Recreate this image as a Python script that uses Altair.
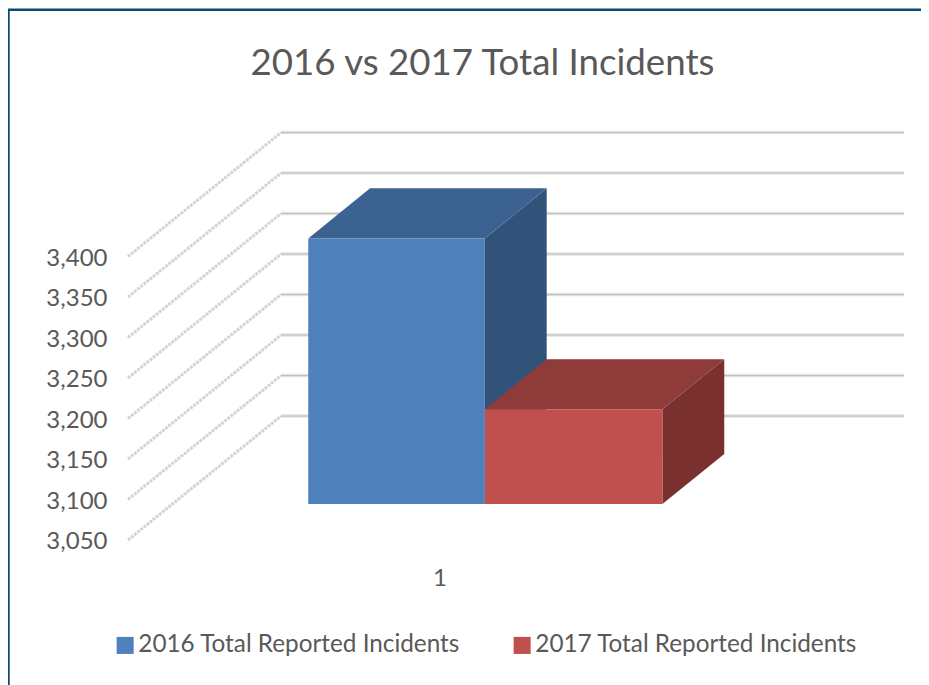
import altair as alt
import pandas as pd

SERIES = ["2016 Total Reported Incidents", "2017 Total Reported Incidents"]
VALUES = [3378, 3167]
FRONT = ["#4f81bd", "#c0504d"]
TOP = ["#3c6291", "#8f3b39"]
SIDE = ["#325379", "#7a302e"]
TICKS = [3050, 3100, 3150, 3200, 3250, 3300, 3350, 3400]
CATEGORY = ["1"]

W, H = 913, 677
UNIT = 623.0          # px per category-axis unit
PX_PER_VALUE = 0.81
ORIGIN_X, ORIGIN_Y = 120.0, 532.0   # plot px of (0, 3050)
DEPTH_X = 0.2456      # x units per full depth
DEPTH_V = 153.0       # value units per full depth
D0, D1 = 0.29, 0.694
EDGES = [0.2181, 0.5016, 0.7866]
BASE = 3050

xs = alt.Scale(domain=[-ORIGIN_X / UNIT, (W - ORIGIN_X) / UNIT], nice=False, zero=False)
ys = alt.Scale(domain=[BASE - (H - ORIGIN_Y) / PX_PER_VALUE, BASE + ORIGIN_Y / PX_PER_VALUE], nice=False, zero=False)
FONT = "Lato"
GREY = "#595959"


def px(x, d):
    return x + d * DEPTH_X


def pv(v, d):
    return v + d * DEPTH_V


X = alt.X("x:Q", scale=xs, title=None)
Y = alt.Y("y:Q", scale=ys, title=None)

# walls
wall = pd.DataFrame(
    [{"tick": t, "order": i, "x": px(x, d), "y": pv(t, d)}
     for t in TICKS for i, (x, d) in enumerate([(0, 0), (0, 1)])]
)
back = pd.DataFrame(
    [{"tick": t, "order": i, "x": px(x, 1), "y": pv(t, 1)}
     for t in TICKS for i, x in enumerate([0, 1])]
)
layers = []
base_axes = alt.Chart(back).mark_line(stroke="#e3e3e3", strokeWidth=3.5).encode(
    x=alt.X("x:Q", scale=xs, title=None,
            axis=alt.Axis(values=[0.5], labelExpr="'%s'" % CATEGORY[0], domain=False, ticks=False, grid=False,
                          labelFont=FONT, labelFontSize=24, labelColor=GREY, offset=-119, labelPadding=0)),
    y=alt.Y("y:Q", scale=ys, title=None,
            axis=alt.Axis(values=TICKS, format=",d", domain=False, ticks=False, grid=False,
                          labelFont=FONT, labelFontSize=24, labelColor=GREY, offset=-99, labelPadding=0,
                          labelOffset=1.5)),
    detail="tick:N", order="order:Q",
)
layers.append(base_axes)
layers.append(alt.Chart(back).mark_line(stroke="#bdbdbd", strokeWidth=1).encode(
    x=X, y=Y, detail="tick:N", order="order:Q"))
layers.append(alt.Chart(wall).mark_line(stroke="#d4d4d4", strokeWidth=3, strokeDash=[3, 1]).encode(
    x=X, y=Y, detail="tick:N", order="order:Q"))

# bars
for i, (name, val) in enumerate(zip(SERIES, VALUES)):
    x0, x1 = EDGES[i], EDGES[i + 1]
    front = pd.DataFrame([{"series": name, "x": px(x0, D0), "x2": px(x1, D0), "y": pv(BASE, D0), "y2": pv(val, D0)}])
    top = pd.DataFrame([
        {"y": pv(val, D0), "x": px(x0, D0), "x2": px(x1, D0)},
        {"y": pv(val, D1), "x": px(x0, D1), "x2": px(x1, D1)},
    ])
    side = pd.DataFrame([
        {"x": px(x1, D0), "y": pv(BASE, D0), "y2": pv(val, D0)},
        {"x": px(x1, D1), "y": pv(BASE, D1), "y2": pv(val, D1)},
    ])
    layers.append(alt.Chart(side).mark_area(color=SIDE[i], orient="vertical").encode(x=X, y=Y, y2="y2:Q"))
    layers.append(alt.Chart(top).mark_area(color=TOP[i], orient="horizontal").encode(x=X, x2="x2:Q", y=Y))
    layers.append(alt.Chart(front).mark_rect().encode(
        x=X, x2="x2:Q", y=Y, y2="y2:Q",
        color=alt.Color("series:N", scale=alt.Scale(domain=SERIES, range=FRONT), title=None,
                        legend=alt.Legend(orient="none", legendX=105, legendY=625, direction="horizontal", columns=2,
                                          symbolType="square", symbolSize=290, symbolStrokeWidth=0, symbolOpacity=1,
                                          labelFont=FONT, labelFontSize=24.3, labelColor=GREY, labelLimit=400,
                                          columnPadding=49, labelOffset=1, padding=0)),
    ))

# frame
BORDER = "#0b4a73"
layers.append(alt.Chart(pd.DataFrame({"a": [0]})).mark_rule(color=BORDER, strokeWidth=2.4).encode(
    x=alt.value(0), x2=alt.value(W), y=alt.value(1.8)))
layers.append(alt.Chart(pd.DataFrame({"a": [0]})).mark_rule(color=BORDER, strokeWidth=2.4).encode(
    x=alt.value(0.5), y=alt.value(1), y2=alt.value(H)))

chart = alt.layer(*layers).properties(
    width=W, height=H, padding=0,
    autosize=alt.AutoSizeParams(type="none"),
    title=alt.TitleParams("2016 vs 2017 Total Incidents", font=FONT, fontSize=36.7, fontWeight="normal", color=GREY,
                          anchor="middle", dx=18, offset=-75),
).configure_view(strokeWidth=0)
chart.save("out.html", embed_options={"renderer": "svg", "actions": False})
